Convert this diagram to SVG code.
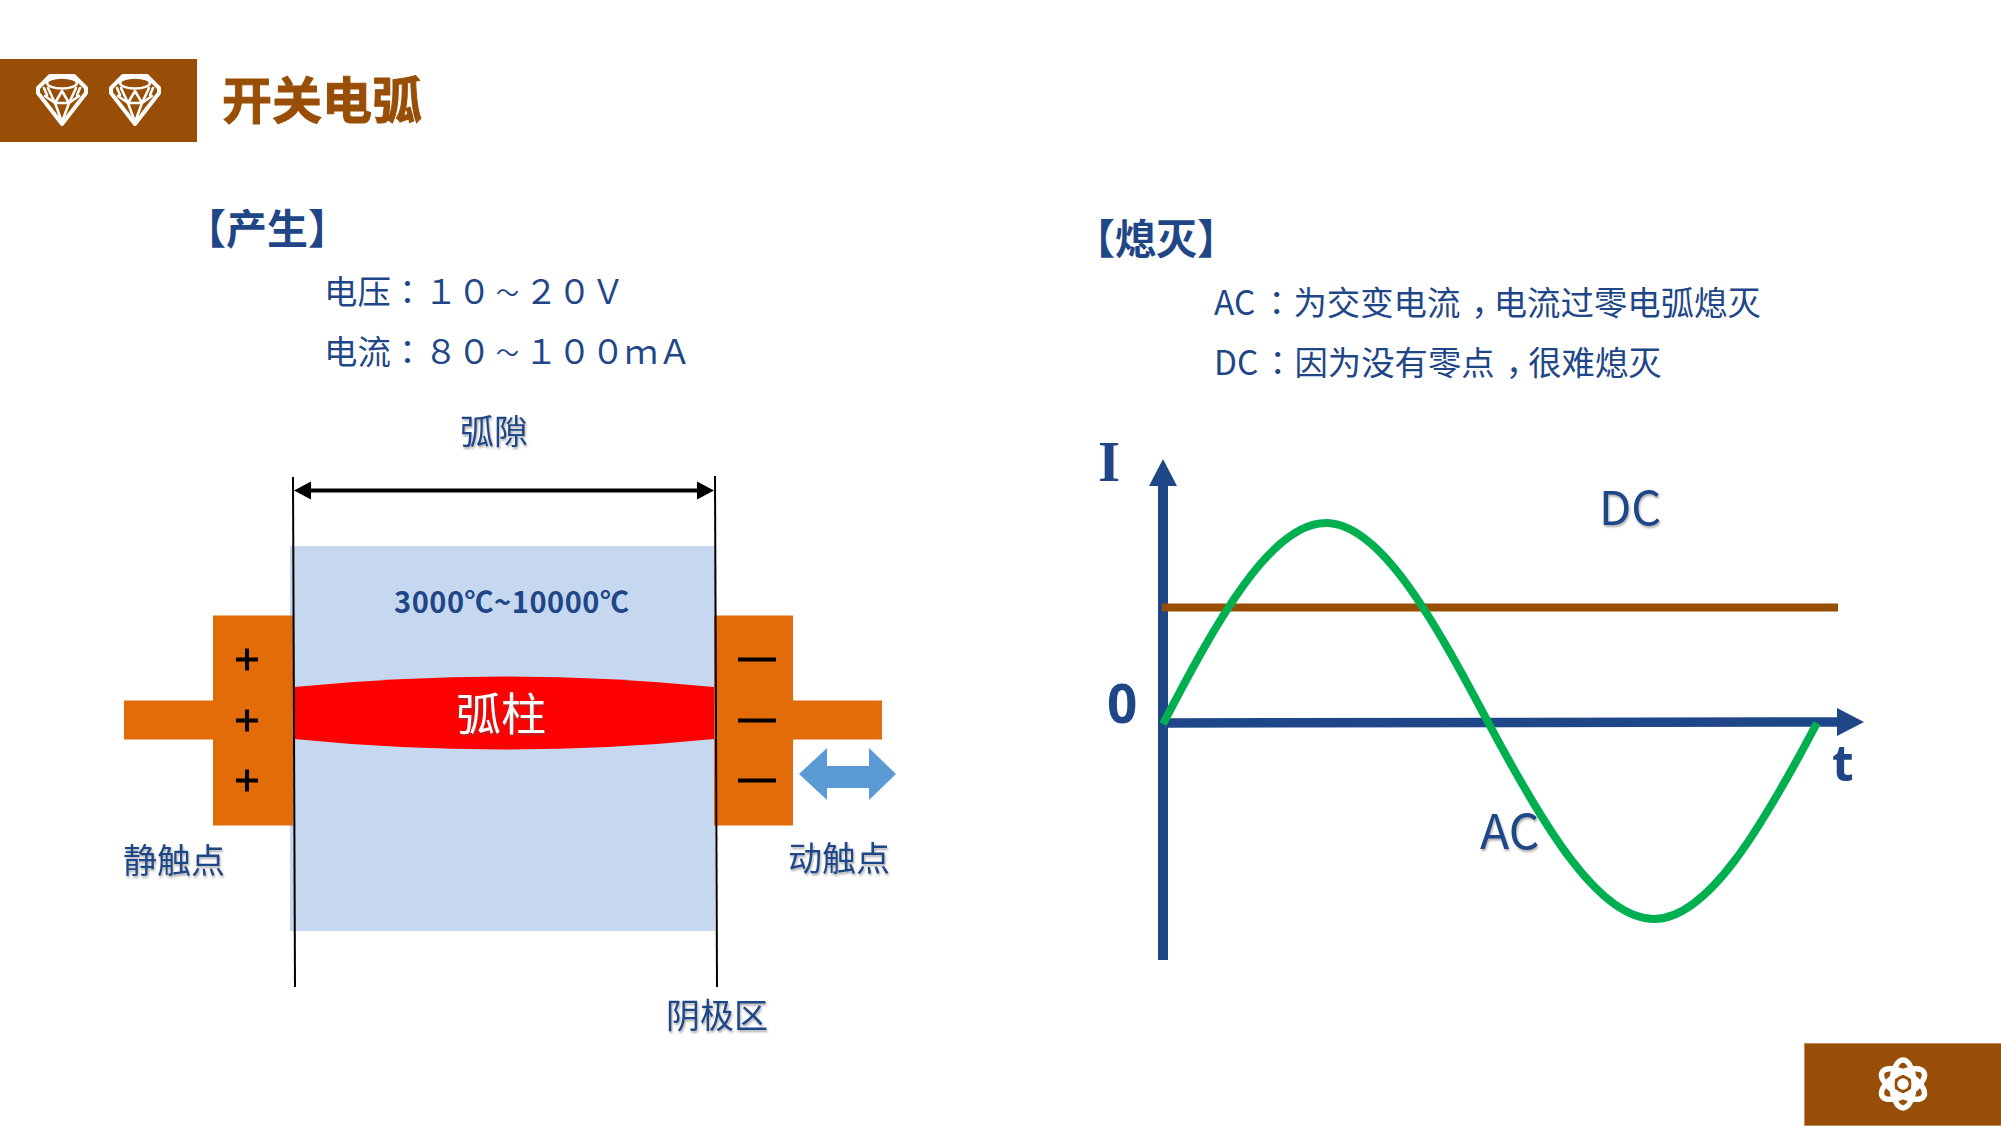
<svg xmlns="http://www.w3.org/2000/svg" xmlns:xlink="http://www.w3.org/1999/xlink" width="2001" height="1126" viewBox="0 0 2001 1126">
<style>
text{font-family:"Noto Sans CJK SC","Noto Sans",sans-serif;fill:#1f4788}
.t33{font-size:33.4px}
.t34{font-size:34px}
.bold{font-weight:700}
.p{font-family:"Noto Sans CJK TC","Noto Sans",sans-serif}
.tl{font-size:23px}
.title{font-size:50px;font-weight:700;fill:#984e06;stroke:#984e06;stroke-width:1}
.h{font-size:41px;font-weight:700}
.sh{filter:url(#sh)}
.orange{fill:#e36c0a}
.brown{fill:#984e06}
.dim{stroke:#000;stroke-width:2;fill:none}
.sign{stroke:#000;stroke-width:4;fill:none}
.ic{fill:none;stroke:#fff;stroke-linejoin:round;stroke-linecap:round}
</style>
<defs>
<filter id="sh" x="-10%" y="-10%" width="120%" height="130%"><feDropShadow dx="1" dy="2" stdDeviation="1" flood-color="#555" flood-opacity=".5"/></filter>
<marker id="blackHead" markerUnits="userSpaceOnUse" markerWidth="18" markerHeight="20" refX="1" refY="10" orient="auto-start-reverse"><path d="M0,1 L17,10 L0,19 Z" fill="#000"/></marker>
<marker id="navyHead" markerUnits="userSpaceOnUse" markerWidth="28" markerHeight="28" refX="1" refY="14" orient="auto"><path d="M0,0 L27,14 L0,28 Z" fill="#1f4788"/></marker>
<g id="diamond">
<path class="ic" stroke-width="4" d="M14,2 H38 L50,14 V19 L26,50 L2,19 V14 Z"/>
<ellipse class="ic" stroke-width="2.5" cx="26" cy="9" rx="15" ry="5.5"/>
<path class="ic" stroke-width="2.5" d="M8,14 L11,21 M44,14 L41,21 M12,14 L19,29 L26,17 L33,29 L40,14 M9,22 L19,29 H33 L43,22 M19,29 L26,48 L33,29"/>
</g>
</defs>
<rect width="2001" height="1126" fill="#fff"/>

<g id="header">
<rect class="brown" x="0" y="59" width="197" height="83"/>
<use xlink:href="#diamond" href="#diamond" x="36" y="74"/>
<use xlink:href="#diamond" href="#diamond" x="109" y="74"/>
<text class="title" x="222" y="119">开关电弧</text>
</g>

<g id="footer">
<rect class="brown" x="1804.5" y="1043.5" width="197" height="82" stroke="#c08a5a" stroke-width="1"/>
<g class="ic" stroke-width="5.5">
<ellipse cx="1903" cy="1084" rx="24" ry="11" transform="rotate(90 1903 1084)"/>
<ellipse cx="1903" cy="1084" rx="24" ry="11" transform="rotate(30 1903 1084)"/>
<ellipse cx="1903" cy="1084" rx="24" ry="11" transform="rotate(-30 1903 1084)"/>
</g>
<circle cx="1903" cy="1084" r="7" fill="#fff" stroke="#984e06" stroke-width="2.5"/>
</g>

<g id="text-generate">
<text class="h" x="185" y="244">【产生】</text>
<text class="t33" x="324" y="304">电压<tspan class="p">：</tspan>１０<tspan class="tl" dx="5" dy="-3.500">～</tspan><tspan dx="5.500" dy="3.500">２０Ｖ</tspan></text>
<text class="t33" x="324" y="364">电流<tspan class="p">：</tspan>８０<tspan class="tl" dx="5" dy="-3.500">～</tspan><tspan dx="5.500" dy="3.500">１００ｍＡ</tspan></text>
</g>

<g id="text-extinguish">
<text class="h" x="1074" y="254">【熄灭】</text>
<text class="t33" x="1214" y="315">AC<tspan class="p" x="1260">：</tspan>为交变电流<tspan dx="11">，</tspan><tspan dx="-11">电流过零电弧熄灭</tspan></text>
<text class="t33" x="1214" y="375">DC<tspan class="p" x="1261">：</tspan>因为没有零点<tspan dx="11">，</tspan><tspan dx="-11">很难熄灭</tspan></text>
</g>

<g id="arc-zone">
<rect x="290" y="546" width="425" height="385" fill="#c6d8f0"/>
<text class="bold" x="394" y="613" font-size="29" textLength="235" lengthAdjust="spacing">3000℃~10000℃</text>
</g>
<g id="contact-static">
<rect class="orange" x="124" y="700.500" width="90" height="39"/>
<rect class="orange" x="213" y="615.500" width="80" height="210"/>
<path class="sign" d="M236,659.500 H258 M247,648.500 V670.500 M236,720.500 H258 M247,709.500 V731.500 M236,780.500 H258 M247,769.500 V791.500"/>
</g>
<g id="contact-moving">
<rect class="orange" x="792" y="700.500" width="90" height="39"/>
<rect class="orange" x="714" y="615.500" width="79" height="210"/>
<path class="sign" d="M738,659.500 H776 M738,720.500 H776 M738,780.500 H776"/>
</g>
<g id="arc-column">
<path d="M294,687 Q505,666 714,687 V739 Q505,760 294,739 Z" fill="#ff0000"/>
<text class="sh" x="456" y="731" font-size="45" style="fill:#fff">弧柱</text>
</g>
<g id="move-arrow">
<path d="M799,774 L827,748 V766 H869 V748 L896,774 L869,800 V788 H827 V800 Z" fill="#5b9bd5"/>
</g>

<g id="labels-left">
<text class="t34 sh" x="460" y="444">弧隙</text>
<text class="t34 sh" x="123" y="873">静触点</text>
<text class="t34 sh" x="788" y="871">动触点</text>
<text class="t34 sh" x="666" y="1028">阴极区</text>
</g>

<g id="connectors">
<line class="dim" x1="293" y1="477" x2="295" y2="987"/>
<line class="dim" x1="715" y1="476" x2="717" y2="987"/>
<line x1="310" y1="490.500" x2="698" y2="490.500" stroke="#000" stroke-width="4" marker-start="url(#blackHead)" marker-end="url(#blackHead)"/>
<line x1="1163" y1="960" x2="1163" y2="485" stroke="#1f4788" stroke-width="10" marker-end="url(#navyHead)"/>
<line x1="1163" y1="723" x2="1838" y2="722" stroke="#1f4788" stroke-width="9.500" marker-end="url(#navyHead)"/>
</g>

<g id="chart">
<rect x="1162" y="603.500" width="676" height="8" fill="#984e06"/>
<path d="M1163,724 C1217,620 1271,523 1326,523 C1380,523 1434,620 1489,724 C1544,827 1599,919 1654,919 C1708,919 1762,827 1817,723" fill="none" stroke="#00b050" stroke-width="8"/>
<text x="1098" y="481" font-size="57" font-weight="700" style="font-family:'Liberation Serif',serif">I</text>
<text x="1107" y="723" font-size="53" font-weight="700" style="font-family:'Open Sans',sans-serif">0</text>
<text x="1832" y="781" font-size="50" font-weight="700" style="font-family:'Open Sans',sans-serif">t</text>
<text class="sh" x="1599" y="525" font-size="47">DC</text>
<text class="sh" x="1480" y="849" font-size="48">AC</text>
</g>
</svg>
